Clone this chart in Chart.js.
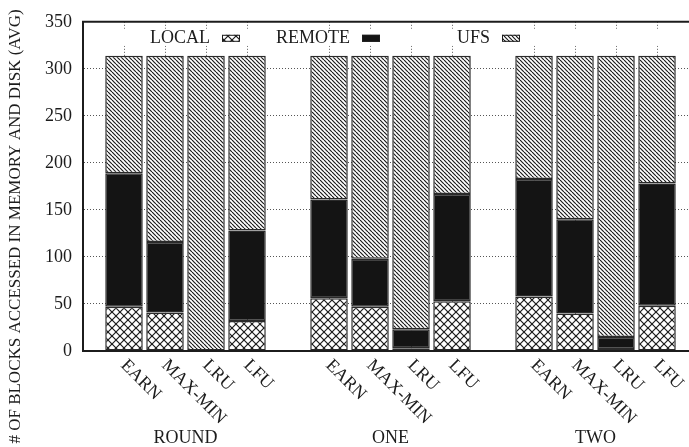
<!DOCTYPE html>
<html>
<head>
<meta charset="utf-8">
<script src="https://cdn.jsdelivr.net/npm/chart.js@4/dist/chart.umd.min.js"></script>
<style>
  html, body { margin: 0; padding: 0; background: #fff; overflow: hidden; }
  canvas { display: block; }
</style>
</head>
<body>
<canvas id="c" width="689" height="447"></canvas>
<script>
// Workload groups and cache policies
const groups = ['ROUND', 'ONE', 'TWO'];
const policies = ['EARN', 'MAX-MIN', 'LRU', 'LFU'];

// Average blocks per source, one row per group, one value per policy
const localBlocks  = [[47, 41, 0, 32], [56, 47, 3, 53], [58, 40, 2, 48]];
const remoteBlocks = [[142, 75, 0, 96], [105, 51, 20, 114], [125, 100, 13, 130]];
const ufsBlocks    = [[125, 198, 314, 186], [153, 216, 291, 147], [131, 174, 299, 136]];

const yTicks = [0, 50, 100, 150, 200, 250, 300, 350];
const yTitle = '# OF BLOCKS ACCESSED IN MEMORY AND DISK (AVG)';

const INK = '#1c1c1c';
const FONT = '"Liberation Serif", "Times New Roman", serif';

// Each group takes policies.length slots plus one empty slot as a separator
const slotOf = (gi, pi) => gi * (policies.length + 1) + pi;
const slots = groups.flatMap((g, gi) => policies.map((p, pi) => slotOf(gi, pi)));

function series(rows) {
  return rows.flatMap((row, gi) => row.map((v, pi) => ({ x: slotOf(gi, pi), y: v })));
}

function pattern(kind) {
  const s = kind === 'cross' ? 8 : 4;
  const c = document.createElement('canvas');
  c.width = c.height = s;
  const g = c.getContext('2d');
  g.fillStyle = '#fff';
  g.fillRect(0, 0, s, s);
  g.strokeStyle = INK;
  g.lineWidth = 1.2;
  for (const o of [-s, 0, s]) {
    g.beginPath(); g.moveTo(o, 0); g.lineTo(o + s, s); g.stroke();
    if (kind === 'cross') {
      g.beginPath(); g.moveTo(o + s, 0); g.lineTo(o, s); g.stroke();
    }
  }
  return g.createPattern(c, 'repeat');
}

const ctx = document.getElementById('c').getContext('2d');

const decor = {
  id: 'decor',
  afterDraw(chart) {
    const { ctx, chartArea: a, scales: { x } } = chart;
    ctx.save();

    // top frame line
    ctx.strokeStyle = INK;
    ctx.lineWidth = 2;
    ctx.beginPath();
    ctx.moveTo(a.left - 1, a.top);
    ctx.lineTo(a.right, a.top);
    ctx.stroke();

    // opaque key strip
    ctx.fillStyle = '#fff';
    ctx.fillRect(a.left + 2, a.top + 7, a.right - a.left - 2, 17);

    // key: label followed by its sample
    ctx.font = '18px ' + FONT;
    ctx.textAlign = 'right';
    ctx.textBaseline = 'alphabetic';
    chart.data.datasets.forEach((ds, i) => {
      const tx = a.left + 127 + i * 140;
      ctx.fillStyle = INK;
      ctx.fillText(ds.label, tx, a.top + 21.5);
      ctx.fillStyle = ds.backgroundColor;
      ctx.fillRect(tx + 12, a.top + 13, 18, 7);
      ctx.lineWidth = 1;
      ctx.strokeStyle = INK;
      ctx.strokeRect(tx + 12.5, a.top + 13.5, 17, 6);
    });

    // rotated policy labels under each bar
    ctx.fillStyle = INK;
    ctx.font = '18px ' + FONT;
    ctx.textAlign = 'left';
    ctx.textBaseline = 'alphabetic';
    groups.forEach((g, gi) => {
      policies.forEach((p, pi) => {
        const px = x.getPixelForValue(slotOf(gi, pi));
        ctx.save();
        ctx.translate(px - 4, a.bottom + 15);
        ctx.rotate(Math.PI / 4);
        ctx.fillText(p, 0, 0);
        ctx.restore();
      });
      // group name centred under its bars
      const c0 = x.getPixelForValue(slotOf(gi, 0));
      const c1 = x.getPixelForValue(slotOf(gi, policies.length - 1));
      ctx.textAlign = 'center';
      ctx.fillText(g, (c0 + c1) / 2, 443);
      ctx.textAlign = 'left';
    });

    // y axis title
    ctx.font = '17px ' + FONT;
    ctx.textAlign = 'center';
    ctx.save();
    ctx.translate(20, 226.5);
    ctx.rotate(-Math.PI / 2);
    ctx.fillText(yTitle, 0, 0);
    ctx.restore();

    ctx.restore();
  }
};

new Chart(ctx, {
  type: 'bar',
  data: {
    datasets: [
      { label: 'LOCAL',  data: series(localBlocks),  backgroundColor: pattern('cross') },
      { label: 'REMOTE', data: series(remoteBlocks), backgroundColor: '#141414' },
      { label: 'UFS',    data: series(ufsBlocks),    backgroundColor: pattern('hatch') }
    ]
  },
  options: {
    responsive: false,
    animation: false,
    events: [],
    layout: { padding: { top: 15, left: 0, right: 0, bottom: 0 } },
    datasets: {
      bar: {
        borderColor: '#2a2a2a',
        borderWidth: 1.5,
        borderSkipped: false,
        barPercentage: 0.915,
        categoryPercentage: 1
      }
    },
    plugins: {
      legend: { display: false },
      tooltip: { enabled: false }
    },
    scales: {
      x: {
        type: 'linear',
        stacked: true,
        offset: false,
        min: -1,
        max: 13.78,
        afterBuildTicks: axis => { axis.ticks = slots.map(v => ({ value: v })); },
        afterFit: axis => { axis.height = 96; },
        ticks: { display: false },
        grid: { offset: false, drawTicks: false, color: '#555', lineWidth: 1 },
        border: { display: true, color: INK, width: 2, dash: [1, 2], z: 1 }
      },
      y: {
        stacked: true,
        min: 0,
        max: 350,
        afterBuildTicks: axis => { axis.ticks = yTicks.map(v => ({ value: v })); },
        afterFit: axis => { axis.width = 83; },
        ticks: { color: INK, padding: 11, font: { family: FONT, size: 18 } },
        grid: { drawTicks: false, color: '#555', lineWidth: 1 },
        border: { display: true, color: INK, width: 2, dash: [1, 2], z: 1 }
      }
    }
  },
  plugins: [decor]
});
</script>
</body>
</html>
